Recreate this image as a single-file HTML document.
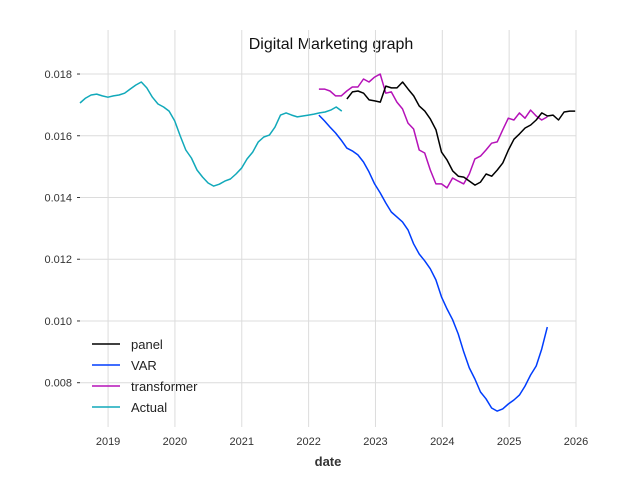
<!DOCTYPE html>
<html><head><meta charset="utf-8"><style>
body{margin:0;background:#fff;}
svg text{font-family:"Liberation Sans","DejaVu Sans",sans-serif;}
</style></head><body>
<svg id="chart" width="640" height="480" xmlns="http://www.w3.org/2000/svg">
<text x="331" y="49" text-anchor="middle" font-size="16" fill="#111">Digital Marketing graph</text>
<g id="grid"></g>
<g id="ticks"></g>
<g id="series"></g>
<text x="328" y="466" text-anchor="middle" font-size="13" font-weight="bold" fill="#333">date</text>
<g id="legend"></g>
</svg>
<script>
const xTicks = [2019, 2020, 2021, 2022, 2023, 2024, 2025, 2026];
const yTicks = [0.008, 0.010, 0.012, 0.014, 0.016, 0.018];
const yTickLabels = ["0.008", "0.010", "0.012", "0.014", "0.016", "0.018"];
const seriesNames = ["panel", "VAR", "transformer", "Actual"];
const panelStart = 2022.572;
const panelValues = [.01719,.01742,.01745,.01738,.01716,.01713,.01709,.01761,.01755,.01755,.01774,.01751,.01729,.01696,.01680,.01654,.01619,.01547,.01521,.01486,.01469,.01466,.01453,.01440,.01450,.01476,.01469,.01489,.01512,.01554,.01589,.01606,.01625,.01635,.01651,.01674,.01664,.01667,.01651,.01677,.01680,.01680];
const varStart = 2022.154;
const varValues = [.01667,.01648,.01628,.01609,.01586,.01560,.01551,.01538,.01515,.01483,.01444,.01415,.01382,.01353,.01337,.01321,.01295,.01250,.01217,.01195,.01169,.01133,.01078,.01039,.01004,.00958,.00900,.00848,.00812,.00770,.00748,.00718,.00708,.00715,.00731,.00744,.00760,.00789,.00825,.00854,.00909,.00980];
const transformerStart = 2022.154;
const transformerValues = [.01751,.01751,.01745,.01729,.01729,.01745,.01758,.01758,.01784,.01774,.01790,.01800,.01738,.01742,.01709,.01687,.01641,.01622,.01554,.01544,.01489,.01444,.01444,.01431,.01463,.01453,.01444,.01476,.01525,.01534,.01554,.01576,.01580,.01619,.01657,.01651,.01674,.01657,.01683,.01664,.01651,.01661];
const actualStart = 2018.58;
const actualValues = [.01706,.01722,.01732,.01735,.01729,.01725,.01729,.01732,.01738,.01751,.01764,.01774,.01755,.01725,.01703,.01693,.01680,.01648,.01599,.01554,.01528,.01489,.01466,.01447,.01437,.01443,.01453,.01460,.01476,.01495,.01525,.01547,.01580,.01596,.01602,.01628,.01667,.01674,.01667,.01661,.01664,.01667,.01670,.01674,.01677,.01683,.01693,.01680];
const colors = ["#000000", "#003DFD", "#b512b8", "#11a9ba"];

const X0=80, X1=576, Y0=30, Y1=427;
const xMin=2018.58, xMax=2026, yMin=0.006565, yMax=0.019426;
const xs = v => X0 + (v - xMin) / (xMax - xMin) * (X1 - X0);
const ys = v => Y1 - (v - yMin) / (yMax - yMin) * (Y1 - Y0);
const NS = "http://www.w3.org/2000/svg";
function mk(tag, attrs, parent){const e=document.createElementNS(NS,tag);for(const k in attrs)e.setAttribute(k,attrs[k]);parent.appendChild(e);return e;}
const grid=document.getElementById('grid'), ticks=document.getElementById('ticks');
xTicks.forEach(t=>{
  const l=mk('line',{x1:xs(t),x2:xs(t),y1:Y0,y2:Y1,stroke:'#dcdcdc','stroke-width':1},grid);
  
  
  const tx=mk('text',{x:xs(t),y:Y1+18,'text-anchor':'middle','font-size':11,fill:'#333'},ticks);
  
  
  tx.textContent=t;
});
yTicks.forEach((t,i)=>{
  const l=mk('line',{x1:X0,x2:X1,y1:ys(t),y2:ys(t),stroke:'#dcdcdc','stroke-width':1},grid);
  
  
  const tk=mk('line',{x1:X0-3,x2:X0,y1:ys(t),y2:ys(t),stroke:'#333','stroke-width':1},ticks);
  
  
  const tx=mk('text',{x:X0-8,y:ys(t)+4,'text-anchor':'end','font-size':11,fill:'#333'},ticks);
  
  
  tx.textContent=yTickLabels[i];
});
const ser=document.getElementById('series');
const all=[[panelStart,panelValues],[varStart,varValues],[transformerStart,transformerValues],[actualStart,actualValues]];
const order=[3,1,2,0];
order.forEach(k=>{
  const [s,vals]=all[k];
  const pts=vals.map((v,i)=>xs(s+i/12).toFixed(1)+','+ys(v).toFixed(1)).join(' ');
  const p=mk('polyline',{points:pts,fill:'none',stroke:colors[k],'stroke-width':1.5,'stroke-linejoin':'round'},ser);
  
  
});
const leg=document.getElementById('legend');
seriesNames.forEach((n,i)=>{
  const y=344+i*21;
  const l=mk('line',{x1:92,x2:120,y1:y,y2:y,stroke:colors[i],'stroke-width':1.5},leg);
  
  
  const t=mk('text',{x:131,y:y+5,'font-size':13,fill:'#222'},leg);
  
  
  t.textContent=n;
});
</script>
</body></html>
